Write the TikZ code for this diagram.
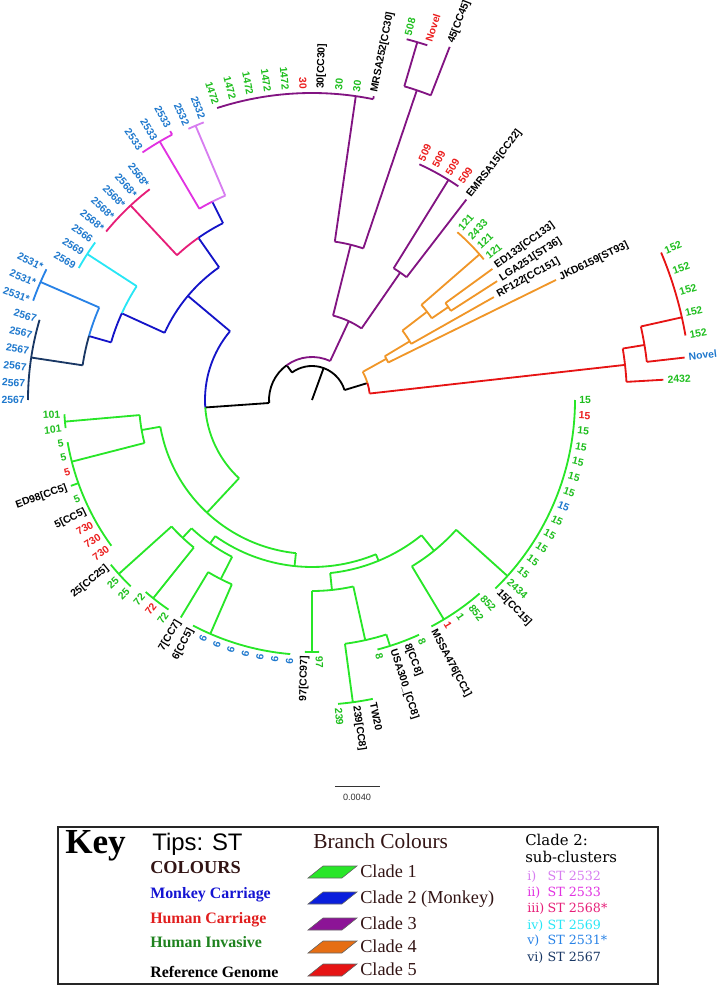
\documentclass[tikz,border=0pt]{standalone}
\usepackage{fontspec}
\setmainfont{Liberation Serif}
\setsansfont{Liberation Sans}
\newfontfamily\subfont{DejaVu Serif}

% branch colours
\definecolor{cladeone}{RGB}{40,230,40}
\definecolor{cladetwo}{RGB}{20,20,200}
\definecolor{cladethree}{RGB}{130,20,130}
\definecolor{cladefour}{RGB}{240,150,40}
\definecolor{cladefive}{RGB}{230,20,20}
\definecolor{subi}{RGB}{215,125,240}
\definecolor{subii}{RGB}{225,50,225}
\definecolor{subiii}{RGB}{230,30,120}
\definecolor{subiv}{RGB}{40,230,245}
\definecolor{subv}{RGB}{40,130,230}
\definecolor{subvi}{RGB}{25,55,100}
% tip colours
\definecolor{tipgreen}{RGB}{30,190,30}
\definecolor{tipred}{RGB}{235,30,30}
\definecolor{tipblue}{RGB}{30,120,205}
% key colours
\definecolor{colourhead}{RGB}{50,20,20}
\definecolor{keyblue}{RGB}{20,20,210}
\definecolor{keyred}{RGB}{225,30,30}
\definecolor{keygreen}{RGB}{30,130,30}
\definecolor{swtwo}{RGB}{10,30,220}
\definecolor{swthree}{RGB}{140,20,150}
\definecolor{swfour}{RGB}{230,110,20}

% radial branch: colour, angle, r1, r2
\newcommand{\branchr}[4]{\draw[branch,#1] (#2:#3) -- (#2:#4);}
% arc branch: colour, radius, a1, a2
\newcommand{\brancha}[4]{\draw[branch,#1] (#3:#2) arc[start angle=#3, end angle=#4, radius=#2*0.025cm];}
% tip label: index, text, colour, tip radius
\newcommand{\leaf}[4]{%
  \pgfmathsetmacro{\leafang}{#1*3.2727273}%
  \pgfmathsetmacro{\leafrad}{#4+4}%
  \pgfmathtruncatemacro{\leafside}{(\leafang>90)&&(\leafang<270)}%
  \ifnum\leafside=1
    \pgfmathsetmacro{\leafrot}{\leafang-180}%
    \node[tiplabel, text=#3, rotate=\leafrot, anchor=east] (tip#1) at (\leafang:\leafrad) {#2};%
  \else
    \node[tiplabel, text=#3, rotate=\leafang, anchor=west] (tip#1) at (\leafang:\leafrad) {#2};%
  \fi}

\begin{document}
\begin{tikzpicture}[x=0.025cm, y=0.025cm,
    branch/.style={line width=1.3pt, line join=round},
    tiplabel/.style={font=\sffamily\bfseries\fontsize{7.4}{8}\selectfont, inner sep=0pt},
    keyhead/.style={font=\bfseries\fontsize{13}{14}\selectfont, anchor=base west, inner sep=0pt},
    keyitem/.style={font=\bfseries\fontsize{11.3}{12}\selectfont, anchor=base west, inner sep=0pt},
    cladeitem/.style={font=\fontsize{13}{14}\selectfont, text=colourhead, anchor=base west, inner sep=0pt},
    subhead/.style={font=\subfont\fontsize{10.6}{12}\selectfont, anchor=base west, inner sep=0pt},
    subitem/.style={font=\subfont\fontsize{9}{10}\selectfont, anchor=base west, inner sep=0pt},
    swatch/.style={draw=black!60, line width=0.4pt}
]
\useasboundingbox (-312,-586) rectangle (408,400);

% Root and backbone
\branchr{black}{70}{0}{34}
\brancha{black}{34}{17}{126}
\branchr{black}{17}{34}{58}
\branchr{black}{126}{34}{43}
\brancha{black}{43}{126}{184}
\branchr{black}{184}{43}{107}

% Clade 3
\brancha{cladethree}{43}{65}{126}
\branchr{cladethree}{65}{43}{87}
\brancha{cladethree}{87}{55.3}{76}
\branchr{cladethree}{55.3}{87}{155}
\brancha{cladethree}{155}{52.4}{58.2}
\branchr{cladethree}{52.4}{155}{253}
\branchr{cladethree}{58.2}{155}{259}
\brancha{cladethree}{259}{55.6}{65.5}
\branchr{cladethree}{76}{87}{160}
\brancha{cladethree}{160}{71.3}{81.8}
\branchr{cladethree}{71.3}{160}{327}
\brancha{cladethree}{327}{68.7}{73.6}
\branchr{cladethree}{68.7}{327}{379}
\branchr{cladethree}{73.6}{327}{373}
\brancha{cladethree}{373}{72}{75.3}
\branchr{cladethree}{81.8}{160}{307}
\brancha{cladethree}{307}{78.5}{108}
\branchr{cladethree}{78.5}{307}{310}

% Clade 4
\brancha{cladefour}{58}{17}{29}
\branchr{cladefour}{29}{58}{85}
\brancha{cladefour}{85}{26.2}{31}
\branchr{cladefour}{26.2}{85}{272}
\branchr{cladefour}{31}{85}{114}
\brancha{cladefour}{114}{29.5}{37.5}
\branchr{cladefour}{29.5}{114}{209}
\branchr{cladefour}{37.5}{114}{145}
\brancha{cladefour}{145}{34.3}{41}
\branchr{cladefour}{34.3}{145}{165}
\brancha{cladefour}{165}{32.7}{36}
\branchr{cladefour}{32.7}{165}{220}
\branchr{cladefour}{36}{165}{223}
\branchr{cladefour}{41}{145}{222}
\brancha{cladefour}{222}{39.3}{49.1}

% Clade 5
\brancha{cladefive}{58}{6.4}{17}
\branchr{cladefive}{6.4}{58}{315}
\brancha{cladefive}{315}{3.3}{9.4}
\branchr{cladefive}{3.3}{315}{352}
\branchr{cladefive}{9.4}{315}{337}
\brancha{cladefive}{337}{6.5}{12.6}
\branchr{cladefive}{6.5}{337}{375}
\branchr{cladefive}{12.6}{337}{379}
\brancha{cladefive}{379}{9.8}{22.9}

% Clade 2 and its sub-clusters
\brancha{cladetwo}{107}{140}{184}
\branchr{cladetwo}{140}{107}{162}
\brancha{cladetwo}{162}{125}{155.5}
\branchr{cladetwo}{155.5}{162}{209}
\brancha{subiv}{209}{147}{155.5}
\brancha{cladetwo}{209}{155.5}{164}
\branchr{subiv}{147}{209}{268}
\brancha{subiv}{268}{144}{150.5}
\branchr{cladetwo}{164}{209}{232}
\brancha{subv}{232}{156.5}{164}
\brancha{subvi}{232}{164}{171.4}
\branchr{subv}{156.5}{232}{296}
\brancha{subv}{296}{153.8}{160.4}
\branchr{subvi}{171.4}{232}{284}
\brancha{subvi}{284}{163.6}{180}
\branchr{cladetwo}{125}{162}{198}
\brancha{cladetwo}{198}{116.7}{125}
\brancha{subiii}{198}{125}{133}
\branchr{cladetwo}{116.7}{198}{222}
\brancha{subi}{222}{113}{116.7}
\brancha{subii}{222}{116.7}{120.5}
\branchr{subi}{113}{222}{298}
\brancha{subi}{298}{111.3}{114.5}
\branchr{subii}{120.5}{222}{300}
\brancha{subii}{300}{117.8}{124.4}
\branchr{subii}{117.8}{300}{304}
\branchr{subiii}{133}{198}{266}
\brancha{subiii}{266}{127.6}{140.7}

% Clade 1
\brancha{cladeone}{107}{184}{227}
\branchr{cladeone}{227}{107}{154}
\brancha{cladeone}{154}{190}{264}
\branchr{cladeone}{190}{154}{173}
\brancha{cladeone}{173}{185}{194.4}
\branchr{cladeone}{185}{173}{248}
\brancha{cladeone}{248}{183.3}{186.5}
\branchr{cladeone}{194.4}{173}{248}
\brancha{cladeone}{248}{189.8}{216}
\branchr{cladeone}{199.6}{248}{256}
\branchr{cladeone}{264}{154}{167}
\brancha{cladeone}{167}{234.6}{292.5}
\branchr{cladeone}{234.6}{167}{176}
\brancha{cladeone}{176}{226.8}{243}
\branchr{cladeone}{226.8}{176}{189}
\brancha{cladeone}{189}{222}{231.3}
\branchr{cladeone}{222}{189}{260}
\brancha{cladeone}{260}{219.3}{225.8}
\branchr{cladeone}{231.3}{189}{254}
\brancha{cladeone}{254}{229.1}{235.6}
\branchr{cladeone}{243}{176}{201}
\brancha{cladeone}{201}{238.9}{246.5}
\branchr{cladeone}{238.9}{201}{254}
\branchr{cladeone}{246.5}{201}{255}
\brancha{cladeone}{255}{242.2}{265.1}
\branchr{cladeone}{292.5}{167}{174}
\brancha{cladeone}{174}{276}{309}
\branchr{cladeone}{276}{174}{191}
\brancha{cladeone}{191}{270}{282.5}
\branchr{cladeone}{270}{191}{252}
\brancha{cladeone}{252}{268.4}{271.6}
\branchr{cladeone}{282.5}{191}{246}
\brancha{cladeone}{246}{277.7}{287.6}
\branchr{cladeone}{277.7}{246}{305}
\brancha{cladeone}{305}{274.9}{281.5}
\branchr{cladeone}{287.6}{246}{258}
\brancha{cladeone}{258}{284.7}{294.5}
\branchr{cladeone}{309}{174}{194}
\brancha{cladeone}{194}{301}{318}
\branchr{cladeone}{301}{194}{256}
\brancha{cladeone}{256}{297.8}{310.9}
\branchr{cladeone}{318}{194}{263}
\brancha{cladeone}{263}{314.2}{360}

% Tip labels (ST)
\leaf{0}{15}{tipgreen}{263}
\leaf{1}{2432}{tipgreen}{352}
\leaf{2}{Novel}{tipblue}{375}
\foreach \i in {3,...,7} {\leaf{\i}{152}{tipgreen}{379}}
\leaf{8}{JKD6159[ST93]}{black}{272}
\leaf{9}{RF122[CC151]}{black}{209}
\leaf{10}{LGA251[ST36]}{black}{220}
\leaf{11}{ED133[CC133]}{black}{223}
\foreach \i/\st in {12/121,13/121,14/2433,15/121} {\leaf{\i}{\st}{tipgreen}{222}}
\leaf{16}{EMRSA15[CC22]}{black}{253}
\foreach \i in {17,...,20} {\leaf{\i}{509}{tipred}{259}}
\leaf{21}{45[CC45]}{black}{379}
\leaf{22}{Novel}{tipred}{373}
\leaf{23}{508}{tipgreen}{373}
\leaf{24}{MRSA252[CC30]}{black}{310}
\leaf{25}{30}{tipgreen}{307}
\leaf{26}{30}{tipgreen}{307}
\leaf{27}{30[CC30]}{black}{307}
\leaf{28}{30}{tipred}{307}
\foreach \i in {29,...,33} {\leaf{\i}{1472}{tipgreen}{307}}
\foreach \i in {34,35} {\leaf{\i}{2532}{tipblue}{298}}
\leaf{36}{2533}{tipblue}{304}
\foreach \i in {37,38} {\leaf{\i}{2533}{tipblue}{300}}
\foreach \i in {39,...,43} {\leaf{\i}{2568*}{tipblue}{266}}
\leaf{44}{2566}{tipblue}{268}
\foreach \i in {45,46} {\leaf{\i}{2569}{tipblue}{268}}
\foreach \i in {47,...,49} {\leaf{\i}{2531*}{tipblue}{296}}
\foreach \i in {50,...,55} {\leaf{\i}{2567}{tipblue}{283}}
\foreach \i in {56,57} {\leaf{\i}{101}{tipgreen}{248}}
\foreach \i/\st/\cl in {58/5/tipgreen,59/5/tipgreen,60/5/tipred,62/5/tipgreen,63/5[CC5]/black,64/730/tipred,65/730/tipred,66/730/tipred} {\leaf{\i}{\st}{\cl}{248}}
\leaf{61}{ED98[CC5]}{black}{256}
\leaf{67}{25[CC25]}{black}{260}
\foreach \i in {68,69} {\leaf{\i}{25}{tipgreen}{260}}
\leaf{70}{72}{tipgreen}{254}
\leaf{71}{72}{tipred}{254}
\leaf{72}{72}{tipgreen}{254}
\leaf{73}{7[CC7]}{black}{254}
\leaf{74}{6[CC5]}{black}{255}
\foreach \i in {75,...,81} {\leaf{\i}{6}{tipblue}{255}}
\leaf{82}{97[CC97]}{black}{252}
\leaf{83}{97}{tipgreen}{252}
\leaf{84}{239}{tipgreen}{305}
\leaf{85}{239[CC8]}{black}{305}
\leaf{86}{TW20}{black}{305}
\leaf{87}{8}{tipgreen}{258}
\leaf{88}{USA300\_[CC8]}{black}{258}
\leaf{89}{8[CC8]}{black}{258}
\leaf{90}{8}{tipgreen}{258}
\leaf{91}{MSSA476[CC1]}{black}{256}
\leaf{92}{1}{tipred}{256}
\leaf{93}{1}{tipgreen}{256}
\foreach \i in {94,95} {\leaf{\i}{852}{tipgreen}{256}}
\leaf{96}{15[CC15]}{black}{263}
\leaf{97}{2434}{tipgreen}{263}
\foreach \i in {98,...,102,104,105,106,107,108} {\leaf{\i}{15}{tipgreen}{263}}
\leaf{103}{15}{tipblue}{263}
\leaf{109}{15}{tipred}{263}

% Scale bar
\coordinate (scaleL) at (23,-386);
\coordinate (scaleR) at (68,-386);
\draw[line width=0.6pt, black!80] (scaleL) -- (scaleR);
\node[font=\sffamily\fontsize{6.5}{7}\selectfont, text=black!80] (scalelabel) at (45,-397) {0.0040};

% Key
\draw[line width=1pt, black!85] (-254,-427) rectangle (346,-584);
\node[font=\bfseries\fontsize{25}{26}\selectfont, anchor=base west, inner sep=0pt] (keytitle) at (-247,-453) {Key};
\node[font=\sffamily\fontsize{17}{18}\selectfont, anchor=base west, inner sep=0pt] (tipshead) at (-160,-450) {Tips: ST};
\node[keyhead, text=colourhead] (colourshead) at (-162,-473) {COLOURS};
\node[keyitem, text=keyblue] (monkey) at (-162,-498) {Monkey Carriage};
\node[keyitem, text=keyred] (humancarr) at (-162,-523) {Human Carriage};
\node[keyitem, text=keygreen] (humaninv) at (-162,-547) {Human Invasive};
\node[keyitem] (refgenome) at (-162,-577) {Reference Genome};

\node[font=\fontsize{15.2}{16}\selectfont, text=colourhead, anchor=base west, inner sep=0pt] (branchhead) at (1,-448) {Branch Colours};
\foreach \yy/\cc/\nn/\lbl in {-472/cladeone/1/{Clade 1}, -498/swtwo/2/{Clade 2 (Monkey)}, -524/swthree/3/{Clade 3}, -547/swfour/4/{Clade 4}, -570/cladefive/5/{Clade 5}} {
  \draw[swatch, fill=\cc] (-4,\yy-6) -- (30,\yy-6) -- (45,\yy+6) -- (11,\yy+6) -- cycle;
  \node[cladeitem] (clade\nn) at (48,\yy-5.5) {\lbl};
}

\node[subhead] (subheadA) at (213,-445) {Clade 2:};
\node[subhead] (subheadB) at (213,-462) {sub-clusters};
\foreach \yy/\cc/\nn/\num/\st in {-480/subi/1/{i)}/{ST 2532}, -496/subii/2/{ii)}/{ST 2533}, -512/subiii/3/{iii)}/{ST 2568*}, -529/subiv/4/{iv)}/{ST 2569}, -544/subv/5/{v)}/{ST 2531*}, -561/subvi/6/{vi)}/{ST 2567}} {
  \node[subitem, text=\cc] (sub\nn) at (215,\yy) {\makebox[14.5pt][l]{\num}\st};
}
\end{tikzpicture}
\end{document}
